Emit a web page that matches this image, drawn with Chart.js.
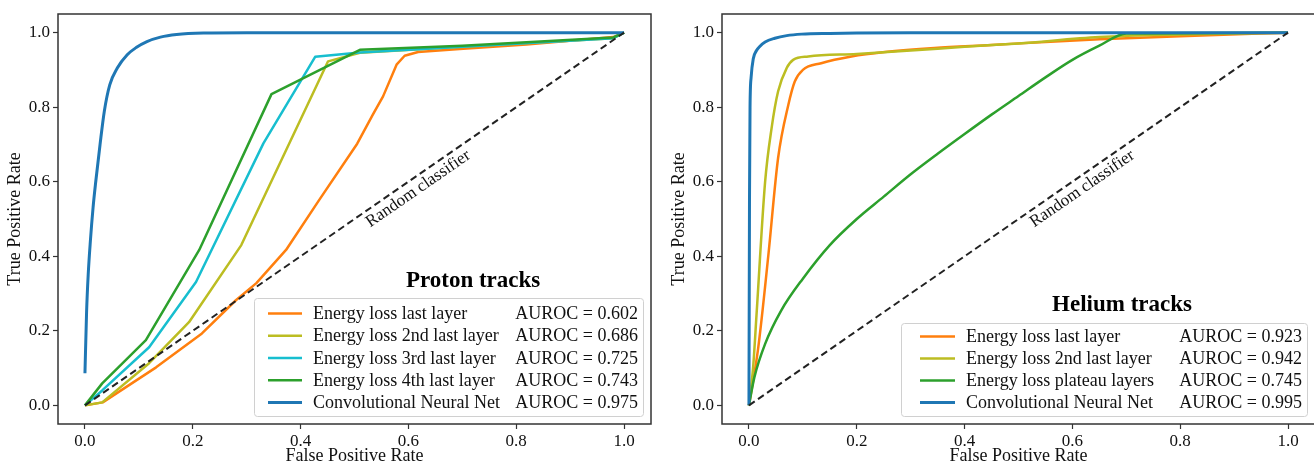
<!DOCTYPE html>
<html><head><meta charset="utf-8">
<script src="https://cdn.jsdelivr.net/npm/chart.js@4/dist/chart.umd.min.js"></script>
<style>
html,body{margin:0;padding:0;background:#fff;width:1314px;height:464px;overflow:hidden;}
#wrap{position:relative;width:1314px;height:464px;overflow:hidden;background:#fff;}
canvas{position:absolute;top:0;}
#c1{left:0;} #c2{left:660px;}
</style></head><body>
<div id="wrap"><canvas id="c1" width="660" height="470"></canvas><canvas id="c2" width="660" height="470"></canvas></div>
<script>
// ---------- data ----------
const tickValues = [0, 0.2, 0.4, 0.6, 0.8, 1.0];
const xTitle = 'False Positive Rate';
const yTitle = 'True Positive Rate';
const diagLabel = 'Random classifier';

// Proton tracks
const protonTitle = 'Proton tracks';
const protonLabels = ['Energy loss last layer', 'Energy loss 2nd last layer', 'Energy loss 3rd last layer', 'Energy loss 4th last layer', 'Convolutional Neural Net'];
const protonAuroc = ['AUROC = 0.602', 'AUROC = 0.686', 'AUROC = 0.725', 'AUROC = 0.743', 'AUROC = 0.975'];
const protonLastFpr = [0, 0.033, 0.132, 0.217, 0.28, 0.318, 0.373, 0.434, 0.505, 0.534, 0.553, 0.578, 0.593, 0.618, 0.695, 0.819, 0.98, 1];
const protonLastTpr = [0, 0.008, 0.102, 0.193, 0.282, 0.328, 0.417, 0.55, 0.702, 0.78, 0.829, 0.914, 0.938, 0.948, 0.956, 0.968, 0.988, 1];
const proton2ndFpr = [0, 0.032, 0.119, 0.193, 0.29, 0.451, 0.51, 0.7, 0.98, 1];
const proton2ndTpr = [0, 0.008, 0.113, 0.223, 0.43, 0.923, 0.946, 0.962, 0.985, 1];
const proton3rdFpr = [0, 0.032, 0.119, 0.206, 0.331, 0.427, 0.51, 0.7, 0.98, 1];
const proton3rdTpr = [0, 0.04, 0.156, 0.331, 0.703, 0.935, 0.947, 0.962, 0.985, 1];
const proton4thFpr = [0, 0.032, 0.113, 0.212, 0.346, 0.51, 0.7, 0.98, 1];
const proton4thTpr = [0, 0.059, 0.175, 0.417, 0.835, 0.954, 0.965, 0.987, 1];
const protonCnnFpr = [0, 0.003, 0.006, 0.01, 0.015, 0.02, 0.028, 0.036, 0.046, 0.06, 0.078, 0.095, 0.115, 0.14, 0.17, 0.22, 0.3, 1];
const protonCnnTpr = [0.086, 0.25, 0.35, 0.44, 0.53, 0.6, 0.7, 0.79, 0.86, 0.905, 0.94, 0.96, 0.976, 0.988, 0.995, 0.999, 1, 1];

// Helium tracks
const heliumTitle = 'Helium tracks';
const heliumLabels = ['Energy loss last layer', 'Energy loss 2nd last layer', 'Energy loss plateau layers', 'Convolutional Neural Net'];
const heliumAuroc = ['AUROC = 0.923', 'AUROC = 0.942', 'AUROC = 0.745', 'AUROC = 0.995'];
const heliumLastFpr = [0, 0.017, 0.036, 0.054, 0.073, 0.085, 0.1, 0.134, 0.19, 0.252, 0.344, 0.45, 0.55, 0.65, 0.8, 1];
const heliumLastTpr = [0, 0.152, 0.403, 0.663, 0.806, 0.869, 0.9, 0.918, 0.936, 0.948, 0.959, 0.967, 0.975, 0.982, 0.99, 1];
const helium2ndFpr = [0, 0.008, 0.014, 0.03, 0.042, 0.054, 0.07, 0.082, 0.11, 0.2, 0.3, 0.4, 0.5, 0.65, 0.8, 1];
const helium2ndTpr = [0, 0.107, 0.242, 0.6, 0.744, 0.842, 0.905, 0.927, 0.936, 0.943, 0.952, 0.962, 0.971, 0.988, 0.995, 1];
const heliumPlateauFpr = [0, 0.01, 0.03, 0.06, 0.1, 0.15, 0.2, 0.25, 0.3, 0.35, 0.4, 0.45, 0.5, 0.55, 0.6, 0.65, 0.7, 1];
const heliumPlateauTpr = [0, 0.075, 0.165, 0.255, 0.34, 0.43, 0.5, 0.56, 0.62, 0.675, 0.728, 0.78, 0.83, 0.88, 0.927, 0.965, 0.998, 1];
const heliumCnnFpr = [0, 0.001, 0.002, 0.004, 0.008, 0.014, 0.02, 0.03, 0.048, 0.07, 0.098, 0.15, 0.2, 0.3, 1];
const heliumCnnTpr = [0, 0.55, 0.8, 0.88, 0.93, 0.952, 0.963, 0.975, 0.985, 0.992, 0.996, 0.998, 0.999, 1, 1];

const diagFpr = [0, 1];
const diagTpr = [0, 1];
const diagLabelPos = [0.623, 0.571];
const protonTitlePos = [0.72, 0.333];
const heliumTitlePos = [0.692, 0.268];

// ---------- styling ----------
const FONT = "'Liberation Serif', 'Times New Roman', serif";
const C = { orange: '#ff7f0e', olive: '#bcbd22', cyan: '#17becf', green: '#2ca02c', blue: '#1f77b4' };
const pts = (xs, ys) => xs.map((v, i) => ({ x: v, y: ys[i] }));

function ds(label, xs, ys, color, order, smooth, width) {
  return {
    label, data: pts(xs, ys), borderColor: color, backgroundColor: color,
    borderWidth: width || 2.5, pointRadius: 0, pointHoverRadius: 0, order,
    tension: 0, cubicInterpolationMode: smooth ? 'monotone' : 'default',
    borderJoinStyle: 'round', fill: false
  };
}
function diagDs() {
  return { label: diagLabel, data: pts(diagFpr, diagTpr), borderColor: '#222', borderWidth: 2,
    borderDash: [7, 4], pointRadius: 0, order: 0, tension: 0, fill: false };
}

function overlay(cfg) {
  return {
    id: 'overlay',
    afterDatasetsDraw(chart) {
      const { ctx, chartArea: a, scales: { x, y } } = chart;
      ctx.save();
      // diagonal label
      const ang = Math.atan2(y.getPixelForValue(1) - y.getPixelForValue(0), x.getPixelForValue(1) - x.getPixelForValue(0));
      ctx.save();
      ctx.translate(x.getPixelForValue(diagLabelPos[0]), y.getPixelForValue(diagLabelPos[1]));
      ctx.rotate(ang);
      ctx.font = `17px ${FONT}`; ctx.fillStyle = '#111';
      ctx.textAlign = 'center'; ctx.textBaseline = 'alphabetic';
      ctx.fillText(diagLabel, 0, 0);
      ctx.restore();
      // panel title
      ctx.font = `bold 23px ${FONT}`; ctx.fillStyle = '#000';
      ctx.textAlign = 'center'; ctx.textBaseline = 'middle';
      ctx.fillText(cfg.title, x.getPixelForValue(cfg.titlePos[0]), y.getPixelForValue(cfg.titlePos[1]));
      // legend box
      const right = a.right - 8, bottom = a.bottom - 8;
      const left = right - cfg.boxW, top = bottom - cfg.boxH;
      ctx.beginPath();
      ctx.roundRect(left + 0.5, top + 0.5, cfg.boxW, cfg.boxH, 3);
      ctx.fillStyle = 'rgba(255,255,255,0.85)'; ctx.fill();
      ctx.strokeStyle = '#d0d0d0'; ctx.lineWidth = 1; ctx.stroke();
      const sets = chart.data.datasets.filter(d => d.label !== diagLabel);
      sets.forEach((d, i) => {
        const ry = top + cfg.rowStart + i * cfg.rowGap;
        ctx.beginPath();
        ctx.moveTo(left + cfg.hx0, ry); ctx.lineTo(left + cfg.hx1, ry);
        ctx.strokeStyle = d.borderColor; ctx.lineWidth = d.borderWidth; ctx.lineCap = 'butt'; ctx.stroke();
        ctx.font = `18px ${FONT}`; ctx.fillStyle = '#111'; ctx.textBaseline = 'middle';
        ctx.textAlign = 'left';
        ctx.fillText(d.label, left + cfg.tx, ry + 1);
        ctx.textAlign = 'right';
        ctx.fillText(cfg.auroc[i], right - 5, ry + 1);
      });
      // frame
      ctx.strokeStyle = '#333'; ctx.lineWidth = 1.5;
      ctx.strokeRect(a.left, a.top, a.right - a.left, a.bottom - a.top);
      ctx.restore();
    }
  };
}

function makeChart(id, datasets, yWidth, yTitlePad, padRight, cfg) {
  return new Chart(document.getElementById(id), {
    type: 'line',
    data: { datasets },
    options: {
      responsive: false, animation: false, devicePixelRatio: 1,
      layout: { padding: { left: 0, top: 14, right: padRight, bottom: 0 } },
      plugins: { legend: { display: false }, tooltip: { enabled: false } },
      scales: {
        x: {
          type: 'linear', min: -0.05, max: 1.05,
          afterBuildTicks: ax => { ax.ticks = tickValues.map(v => ({ value: v })); },
          afterFit: ax => { ax.height = 46; },
          ticks: { callback: v => v.toFixed(1), font: { family: FONT, size: 17 }, color: '#111', padding: 2, maxRotation: 0, autoSkip: false },
          grid: { drawOnChartArea: false, drawTicks: true, tickLength: 5, tickColor: '#333', tickWidth: 1.2 },
          border: { display: false },
          title: { display: true, text: xTitle, font: { family: FONT, size: 18 }, color: '#111', padding: { top: 0, bottom: 3 } }
        },
        y: {
          type: 'linear', min: -0.05, max: 1.05,
          afterBuildTicks: ax => { ax.ticks = tickValues.map(v => ({ value: v })); },
          afterFit: ax => { ax.width = yWidth; },
          ticks: { callback: v => v.toFixed(1), font: { family: FONT, size: 17 }, color: '#111', padding: 3, autoSkip: false },
          grid: { drawOnChartArea: false, drawTicks: true, tickLength: 5, tickColor: '#333', tickWidth: 1.2 },
          border: { display: false },
          title: { display: true, text: yTitle, font: { family: FONT, size: 18 }, color: '#111', padding: { top: yTitlePad, bottom: 0 } }
        }
      }
    },
    plugins: [overlay(cfg)]
  });
}

makeChart('c1', [
  ds(protonLabels[0], protonLastFpr, protonLastTpr, C.orange, 5, false),
  ds(protonLabels[1], proton2ndFpr, proton2ndTpr, C.olive, 4, false),
  ds(protonLabels[2], proton3rdFpr, proton3rdTpr, C.cyan, 3, false),
  ds(protonLabels[3], proton4thFpr, proton4thTpr, C.green, 2, false),
  ds(protonLabels[4], protonCnnFpr, protonCnnTpr, C.blue, 1, true, 3),
  diagDs()
], 58, 4, 9, { title: protonTitle, titlePos: protonTitlePos, auroc: protonAuroc,
  boxW: 389, boxH: 118, rowStart: 15.5, rowGap: 22.25, hx0: 14, hx1: 48, tx: 59 });

makeChart('c2', [
  ds(heliumLabels[0], heliumLastFpr, heliumLastTpr, C.orange, 4, true),
  ds(heliumLabels[1], helium2ndFpr, helium2ndTpr, C.olive, 3, true),
  ds(heliumLabels[2], heliumPlateauFpr, heliumPlateauTpr, C.green, 2, true),
  ds(heliumLabels[3], heliumCnnFpr, heliumCnnTpr, C.blue, 1, true, 3),
  diagDs()
], 62, 8, 5, { title: heliumTitle, titlePos: heliumTitlePos, auroc: heliumAuroc,
  boxW: 406, boxH: 93, rowStart: 13.5, rowGap: 22, hx0: 19, hx1: 54, tx: 65 });
</script>
</body></html>
